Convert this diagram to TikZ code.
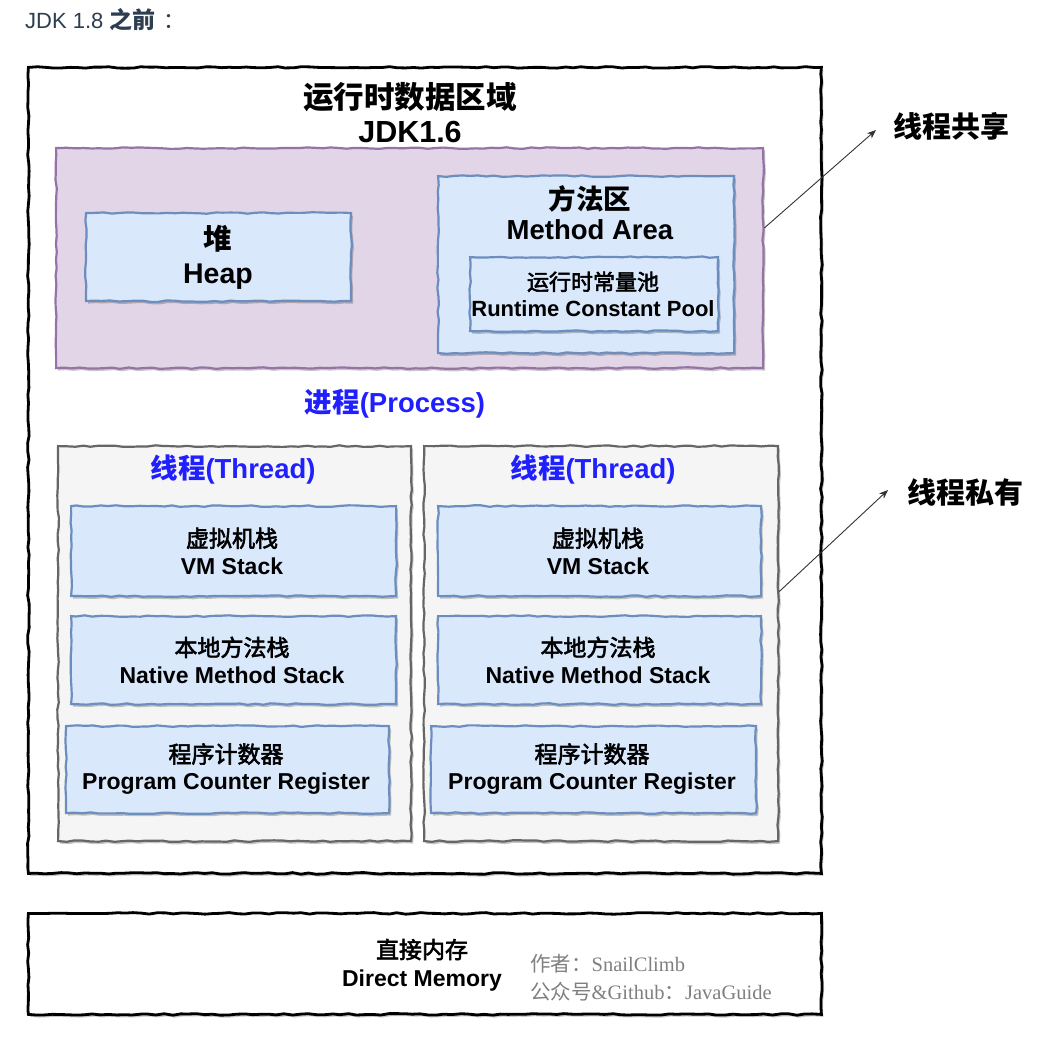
\documentclass[tikz,border=0pt]{standalone}
\usepackage{fontspec}
\setmainfont{Liberation Sans}
\newfontfamily\cjk{Noto Sans CJK SC}
\newfontfamily\cjkmedium[FakeBold=2.5]{Noto Sans CJK SC}
\newfontfamily\serifl{Liberation Serif}
\usetikzlibrary{decorations.pathmorphing,shadows,arrows.meta,calc}
\definecolor{pfill}{HTML}{E1D5E7}
\definecolor{pdraw}{HTML}{9673A6}
\definecolor{bfill}{HTML}{DAE8FC}
\definecolor{bdraw}{HTML}{6C8EBF}
\definecolor{gfill}{HTML}{F5F5F5}
\definecolor{gdraw}{HTML}{666666}
\definecolor{ttl}{HTML}{2C3E50}
\definecolor{bluetxt}{HTML}{2020FF}
\definecolor{authgray}{HTML}{808080}
\newcommand{\fsz}[2]{\fontsize{#1}{#2}\selectfont}
\newcommand{\cjkm}[1]{{\cjkmedium\mdseries #1}}
\tikzset{
 sketch/.style={decorate,decoration={random steps,segment length=8pt,amplitude=0.8pt}},
 shad/.style={drop shadow={shadow xshift=2pt,shadow yshift=-2.5pt,fill=black,opacity=0.22}},
 box/.style={draw, sketch, shad, inner sep=0pt, anchor=north west, line width=2.2pt},
 outerbox/.style={box, draw=black, fill=white, line width=2.8pt},
 sharedbox/.style={box, draw=pdraw, fill=pfill},
 membox/.style={box, draw=bdraw, fill=bfill},
 thrbox/.style={box, draw=gdraw, fill=gfill},
 lbl/.style={inner sep=0pt, align=center, text=black},
 memtxt/.style={lbl, font=\bfseries\fsz{23}{27}},
 bluettl/.style={lbl, text=bluetxt, font=\bfseries\fsz{27.5}{32}},
 conn/.style={draw=black!80, line width=0.9pt, -{Stealth[length=9pt,width=7pt]}},
}
\begin{document}
\begin{tikzpicture}[x=1pt,y=-1pt]
\useasboundingbox (0,0) rectangle (1042,1038);
\fill[white] (0,0) rectangle (1042,1038);
\pgfmathsetseed{7}
% title
\node[lbl, anchor=west, text=ttl, font=\fsz{22}{26}] (title) at (25,20) {JDK 1.8 {\cjk\bfseries\fsz{23}{26}之前}\hspace{8pt}{\cjk ：}};
% outer runtime data area
\node[outerbox, minimum width=793pt, minimum height=806pt] (outer) at (27,66) {};
\node[lbl, font=\bfseries\fsz{30.5}{34}] (rtitle) at (410,113) {{\cjk\bfseries 运行时数据区域}\\JDK1.6};
% shared area
\node[sharedbox, minimum width=707pt, minimum height=220pt] (shared) at (55,147) {};
\node[membox, minimum width=265pt, minimum height=88pt] (heap) at (85,212) {};
\node[lbl, font=\bfseries\fsz{28.5}{34}] (heaptxt) at (218,257) {{\cjk\bfseries 堆}\\Heap};
\node[membox, minimum width=296pt, minimum height=177pt] (method) at (437,175) {};
\node[lbl, font=\bfseries\fsz{27.5}{30}] (methodtxt) at (590,213) {{\cjk\bfseries 方法区}\\Method Area};
\node[membox, minimum width=248pt, minimum height=74pt] (rcp) at (469,256) {};
\node[memtxt, font=\bfseries\fsz{22}{26}] (rcptxt) at (593,294) {\cjkm{运行时常量池}\\Runtime Constant Pool};
% process
\node[bluettl] (process) at (395,404) {{\cjk\bfseries 进程}(Process)};
% left thread
\node[thrbox, minimum width=353pt, minimum height=395pt] (thrL) at (57,445) {};
\node[bluettl] (thrLt) at (233,470) {{\cjk\bfseries 线程}(Thread)};
\node[membox, minimum width=325pt, minimum height=90pt] (vmL) at (70,505) {};
\node[memtxt] (vmLt) at (232,551) {\cjkm{虚拟机栈}\\VM Stack};
\node[membox, minimum width=325pt, minimum height=88pt] (natL) at (70,615) {};
\node[memtxt] (natLt) at (232,660) {\cjkm{本地方法栈}\\Native Method Stack};
\node[membox, minimum width=323pt, minimum height=87pt] (pcL) at (65,725) {};
\node[memtxt] (pcLt) at (226,769) {\cjkm{程序计数器}\\Program Counter Register};
% right thread
\node[thrbox, minimum width=354pt, minimum height=395pt] (thrR) at (423,445) {};
\node[bluettl] (thrRt) at (593,470) {{\cjk\bfseries 线程}(Thread)};
\node[membox, minimum width=323pt, minimum height=90pt] (vmR) at (437,505) {};
\node[memtxt] (vmRt) at (598,551) {\cjkm{虚拟机栈}\\VM Stack};
\node[membox, minimum width=323pt, minimum height=88pt] (natR) at (437,615) {};
\node[memtxt] (natRt) at (598,660) {\cjkm{本地方法栈}\\Native Method Stack};
\node[membox, minimum width=325pt, minimum height=87pt] (pcR) at (430,725) {};
\node[memtxt] (pcRt) at (592,769) {\cjkm{程序计数器}\\Program Counter Register};
% side labels
\node[lbl, anchor=west, font=\cjk\bfseries\fsz{29}{34}] (share) at (893,126) {线程共享};
\node[lbl, anchor=west, font=\cjk\bfseries\fsz{29}{34}] (private) at (907,492) {线程私有};
\draw[conn] ([yshift=30pt]shared.east) -- ([xshift=-17pt,yshift=-4pt]share.west);
\draw[conn] ([yshift=52pt]thrR.east) -- ([xshift=-19pt,yshift=2pt]private.west);
% direct memory
\node[outerbox, minimum width=793pt, minimum height=101pt] (direct) at (27,912) {};
\node[lbl, font=\bfseries\fsz{23}{28}] (directtxt) at (422,965) {\cjkm{直接内存}\\Direct Memory};
\node[lbl, anchor=west, align=left, text=authgray, font=\serifl\fsz{20.5}{28}] (author) at (530,978) {{\cjk 作者：}SnailClimb\\{\cjk 公众号}\&Github{\cjk ：}JavaGuide};
\end{tikzpicture}
\end{document}
